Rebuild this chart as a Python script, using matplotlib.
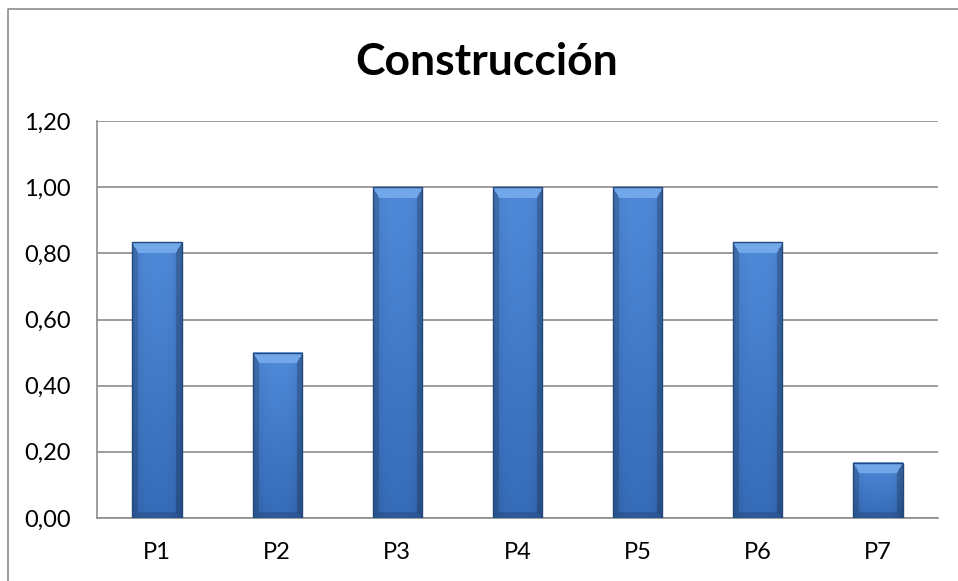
import numpy as np
import matplotlib
matplotlib.use("Agg")
import matplotlib.pyplot as plt
from matplotlib.lines import Line2D

categories = ["P1", "P2", "P3", "P4", "P5", "P6", "P7"]
values = [0.833, 0.5, 1.0, 1.0, 1.0, 0.833, 0.167]
y_ticks = [0.0, 0.2, 0.4, 0.6, 0.8, 1.0, 1.2]
title = "Construcción"

plt.rcParams["font.family"] = ["Lato", "DejaVu Sans"]

GRID = "#8c8c8c"
OUTLINE = "#23487e"


def bevel_image(w, h, top_b=11, side_b=6):
    """RGB array for a bevelled blue bar of w x h pixels."""
    top_col = np.array([0.31, 0.54, 0.85])
    bot_col = np.array([0.21, 0.42, 0.72])
    light = np.array([0.45, 0.66, 0.92])
    xs = np.arange(w)[None, :] + 0.5
    ys = np.arange(h)[:, None] + 0.5
    t = ys / max(h, 1)
    # vertical fade from brighter top to deeper bottom
    col = top_col[None, None, :] * (1 - t[:, :, None]) + bot_col[None, None, :] * t[:, :, None]
    # gentle darkening toward the sides
    horiz = 1 - 0.12 * np.abs((xs - w / 2) / (w / 2)) ** 3
    img = np.broadcast_to(col * horiz[:, :, None], (h, w, 3)).copy()
    d_top = ys / top_b
    d_left = xs / side_b
    d_right = (w - xs) / side_b
    d_bot = (h - ys) / side_b
    top = (d_top < 1) & (d_top <= d_left) & (d_top <= d_right)
    left = (d_left < 1) & (d_left < d_top) & (d_left <= d_bot)
    right = (d_right < 1) & (d_right < d_top) & (d_right <= d_bot)
    bottom = (d_bot < 1) & (d_bot < d_left) & (d_bot < d_right)
    full = (h, w)
    img[np.broadcast_to(top, full)] = light
    img[np.broadcast_to(left, full)] *= 0.86
    img[np.broadcast_to(right, full)] *= 0.80
    img[np.broadcast_to(bottom, full)] *= 0.85
    return np.clip(img, 0, 1)


def create_chart():
    fig = plt.figure(figsize=(9.58, 5.81), dpi=100)
    ax = fig.add_axes([97 / 958, 63 / 581, 841 / 958, 397 / 581])

    x = np.arange(len(categories))
    bars = ax.bar(x, values, width=0.41, color="#4a80cc",
                  edgecolor=OUTLINE, linewidth=1.0, zorder=3)

    ax.set_xlim(-0.5, len(categories) - 0.5)
    ax.set_ylim(0, 1.2)
    ax.set_yticks(y_ticks)
    ax.set_yticklabels([f"{v:.2f}".replace(".", ",") for v in y_ticks])
    ax.set_xticks(x)
    ax.set_xticklabels(categories)
    ax.tick_params(axis="y", length=0, pad=19, labelsize=17)
    ax.tick_params(axis="x", length=0, pad=17, labelsize=17)
    ax.yaxis.grid(True, color=GRID, linewidth=1.2, zorder=0)
    ax.set_axisbelow(True)
    for side in ["top", "right"]:
        ax.spines[side].set_visible(False)
    for side in ["left", "bottom"]:
        ax.spines[side].set_color(GRID)
        ax.spines[side].set_linewidth(1.2)

    # shaded bevel fill for each bar
    fig.canvas.draw()
    for bar in bars:
        bbox = bar.get_window_extent()
        w = max(int(round(bbox.width)), 2)
        h = max(int(round(bbox.height)), 2)
        img = bevel_image(w, h)
        x0, y0 = bar.get_x(), bar.get_y()
        ax.imshow(img, extent=(x0, x0 + bar.get_width(), y0, y0 + bar.get_height()),
                  aspect="auto", interpolation="bilinear", zorder=3.5)
        bar.set_facecolor("none")
        bar.set_zorder(4)
    ax.set_xlim(-0.5, len(categories) - 0.5)
    ax.set_ylim(0, 1.2)

    fig.text(487 / 958, 1 - 75 / 581, title, ha="center", va="baseline",
             fontsize=32, fontweight="bold")

    # chart area frame
    fig.add_artist(Line2D([8 / 958, 8 / 958, 1.0], [0.0, 1 - 9 / 581, 1 - 9 / 581],
                          transform=fig.transFigure, color=GRID, linewidth=1.2))

    fig.savefig("out.png", dpi=100, facecolor="white")
    plt.close(fig)


if __name__ == "__main__":
    create_chart()
